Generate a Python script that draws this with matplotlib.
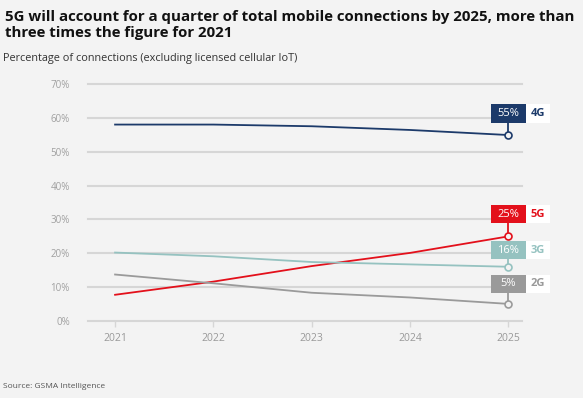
import numpy as np
import pandas as pd
import matplotlib.pyplot as plt
from matplotlib.patches import Rectangle

years = [2021, 2022, 2023, 2024, 2025]
share_4g = [58.1, 58.1, 57.6, 56.5, 55.0]
share_5g = [7.7, 11.6, 16.2, 20.1, 25.0]
share_3g = [20.2, 19.1, 17.4, 16.7, 16.0]
share_2g = [13.7, 11.1, 8.3, 6.9, 5.0]
series_names = ['4G', '5G', '3G', '2G']
end_labels = ['55%', '25%', '16%', '5%']
ytick_vals = [0, 10, 20, 30, 40, 50, 60, 70]

colors = {'4G': '#1c3a6a', '5G': '#e3101b', '3G': '#95c2c0', '2G': '#9a9a9a'}
box_y = {'4G': 61.4, '5G': 31.6, '3G': 20.9, '2G': 10.9}
bg = '#f3f3f3'

plt.rcParams['font.family'] = ['Open Sans', 'DejaVu Sans']

fig = plt.figure(figsize=(5.83, 3.98), dpi=100, facecolor=bg)
ax = fig.add_axes([0.151, 0.194, 0.744, 0.594], facecolor=bg)

data = {'4G': share_4g, '5G': share_5g, '3G': share_3g, '2G': share_2g}

# grid
for v in ytick_vals:
    ax.axhline(v, color='#d6d6d6', lw=1.5, zorder=0, clip_on=False)

for name, lab in zip(series_names, end_labels):
    c = colors[name]
    vals = data[name]
    ax.plot(years, vals, color=c, lw=1.3, zorder=3, clip_on=False)
    ax.plot(years[-1], vals[-1], 'o', ms=5, mfc=bg, mec=c, mew=1.2, zorder=5, clip_on=False)
    by = box_y[name]
    h = 5.4
    ax.plot([years[-1], years[-1]], [vals[-1], by - h / 2], color=c, lw=1.3, zorder=3)
    ax.add_patch(Rectangle((years[-1] - 0.178, by - h / 2), 0.356, h, facecolor=c,
                           edgecolor='none', zorder=6, clip_on=False))
    ax.add_patch(Rectangle((years[-1] + 0.178, by - h / 2), 0.25, h, facecolor='white',
                           edgecolor='none', zorder=6, clip_on=False))
    ax.text(years[-1], by, lab, color='white', fontsize=8, ha='center', va='center',
            zorder=7)
    ax.text(years[-1] + 0.303, by, name, color=c, fontsize=8, fontweight='bold',
            ha='center', va='center', zorder=7)

ax.set_xlim(2020.725, 2025.136)
ax.set_ylim(0, 70)
ax.set_xticks(years)
ax.set_xticklabels([str(y) for y in years])
ax.set_yticks(ytick_vals)
ax.set_yticklabels([f'{v}%' for v in ytick_vals])
for s in ax.spines.values():
    s.set_visible(False)
ax.tick_params(axis='y', length=0, pad=13, labelsize=7, labelcolor='#a0a0a0')
ax.tick_params(axis='x', length=4, width=1, color='#d6d6d6', pad=5,
               labelsize=7.5, labelcolor='#999999')

fig.text(0.009, 0.975, '5G will account for a quarter of total mobile connections by 2025, more than\n'
         'three times the figure for 2021', fontsize=10.8, fontweight='bold',
         color='#111111', ha='left', va='top', linespacing=1.22)
fig.text(0.005, 0.853, 'Percentage of connections (excluding licensed cellular IoT)',
         fontsize=7.8, color='#333333', ha='left', va='center')
fig.text(0.005, 0.03, 'Source: GSMA Intelligence', fontsize=6, color='#555555',
         ha='left', va='center')

fig.savefig('out.png', dpi=100, facecolor=bg)
